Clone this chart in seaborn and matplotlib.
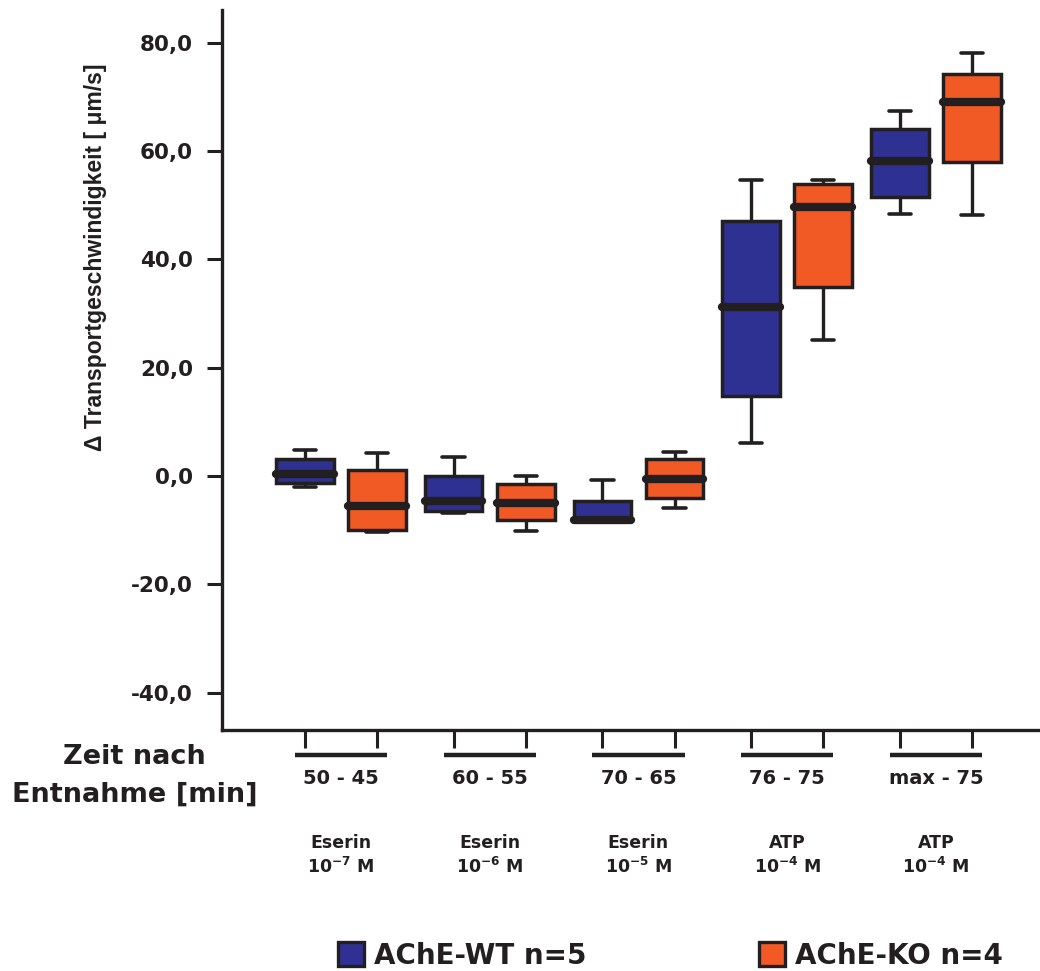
import numpy as np
import pandas as pd
import matplotlib
matplotlib.use("Agg")
import matplotlib.pyplot as plt
import matplotlib.transforms as mtransforms
from matplotlib import font_manager
from matplotlib.font_manager import FontProperties
from matplotlib.patches import Patch
import seaborn as sns

# ---- data ---------------------------------------------------------------
periods = ["50 - 45", "60 - 55", "70 - 65", "76 - 75", "max - 75"]
treatments = ["Eserin", "Eserin", "Eserin", "ATP", "ATP"]
exponents = ["-7", "-6", "-5", "-4", "-4"]
groups = ["AChE-WT n=5", "AChE-KO n=4"]
y_ticks = [-40, -20, 0, 20, 40, 60, 80]

# five-number summaries per period: minimum, Q1, median, Q3, maximum
wt_min = [-2.1, -6.8, -8.1, 6.1, 48.4]
wt_q1 = [-1.3, -6.4, -8.1, 14.8, 51.4]
wt_med = [0.4, -4.7, -8.1, 31.2, 58.1]
wt_q3 = [3.2, 0.0, -4.7, 47.0, 64.0]
wt_max = [4.8, 3.4, -0.7, 54.6, 67.4]

ko_min = [-10.3, -10.1, -6.0, 25.1, 48.1]
ko_q1 = [-10.0, -8.2, -4.1, 34.9, 57.9]
ko_med = [-5.5, -5.0, -0.5, 49.6, 69.0]
ko_q3 = [1.1, -1.5, 3.1, 53.9, 74.1]
ko_max = [4.2, -0.1, 4.5, 54.6, 78.1]

# ---- style --------------------------------------------------------------
BLUE = "#2e3192"
ORANGE = "#f15a24"
INK = "#231f20"

sns.set_style("ticks")
plt.rcParams["font.family"] = ["DejaVu Sans"]
plt.rcParams["font.weight"] = "bold"


def label_font(size):
    """Bold narrow face for the vertical axis title, if one is installed."""
    for f in font_manager.fontManager.ttflist:
        name = f.name.lower()
        if ("narrow" in name or "condensed" in name) and f.weight in (700, "bold") \
                and f.style == "normal" and "liberation" in name:
            return FontProperties(fname=f.fname, size=size)
    return FontProperties(family="Liberation Sans", weight="bold", size=size)


rows = []
for grp, cols in zip(groups, [(wt_min, wt_q1, wt_med, wt_q3, wt_max),
                              (ko_min, ko_q1, ko_med, ko_q3, ko_max)]):
    for i, period in enumerate(periods):
        for col in cols:
            rows.append({"period": period, "group": grp, "value": col[i]})
df = pd.DataFrame(rows)

fig = plt.figure(figsize=(10.4, 9.71), dpi=100)
ax = fig.add_axes([222 / 1040, 1 - 730 / 971, 1 - 222 / 1040, 720 / 971])

BOX_WIDTH = 0.97
GAP = 0.2
sns.boxplot(
    data=df, x="period", y="value", hue="group",
    order=periods, hue_order=groups, palette=[BLUE, ORANGE],
    saturation=1, width=BOX_WIDTH, gap=GAP, whis=(0, 100),
    linecolor=INK, linewidth=2.5, legend=False, ax=ax,
    medianprops=dict(color=INK, linewidth=6, solid_capstyle="round"),
    whiskerprops=dict(color=INK, linewidth=2.4),
    capprops=dict(color=INK, linewidth=2.6, solid_capstyle="round"),
)

# narrower whisker caps
drawn_width = BOX_WIDTH / 2 * (1 - GAP)
cap_width = 0.15
for line in ax.lines:
    xd, yd = line.get_data()
    xd = np.asarray(xd, dtype=float)
    yd = np.asarray(yd, dtype=float)
    if len(xd) == 2 and yd[0] == yd[1]:
        length = abs(xd[1] - xd[0])
        if 0 < length < 0.8 * drawn_width and line.get_linewidth() < 5:
            c = xd.mean()
            line.set_xdata([c - cap_width / 2, c + cap_width / 2])

ax.set_xlim(-0.80, 4.70)
ax.set_ylim(-46.9, 86.0)

# axes frame
sns.despine(ax=ax)
for side in ("left", "bottom"):
    ax.spines[side].set_linewidth(2.4)
    ax.spines[side].set_color(INK)

ax.set_yticks(y_ticks)
ax.set_yticklabels([f"{v:.1f}".replace(".", ",") for v in y_ticks])
ax.tick_params(axis="y", length=11, width=2.2, color=INK, pad=10,
               labelsize=15.5, labelcolor=INK)

# one tick under every box
offset = BOX_WIDTH / 4
box_positions = [i + s * offset for i in range(len(periods)) for s in (-1, 1)]
ax.set_xticks(box_positions)
ax.set_xticklabels([])
ax.tick_params(axis="x", length=13, width=2.2, color=INK, direction="out")

ax.set_xlabel("")
fp = label_font(16.5)
if "narrow" in (fp.get_file() or "").lower():
    fp.set_size(19.0)
ax.set_ylabel("Δ Transportgeschwindigkeit [ μm/s]", fontproperties=fp,
              color=INK)
ax.yaxis.set_label_coords(-0.140, 0.657)

# period labels with underline bars and treatment notes
trans = mtransforms.blended_transform_factory(ax.transData, ax.transAxes)
for i, (period, treat, exp) in enumerate(zip(periods, treatments, exponents)):
    ax.plot([i - 0.31, i + 0.31], [-0.035, -0.035], transform=trans,
            color=INK, lw=3.2, solid_capstyle="butt", clip_on=False)
    ax.text(i, -0.068, period, transform=trans, ha="center", va="center",
            fontsize=14, fontweight="bold", color=INK)
    ax.text(i, -0.157, treat, transform=trans, ha="center", va="center",
            fontsize=12.5, fontweight="bold", color=INK)
    ax.text(i, -0.190, "10$^{\\mathbf{" + exp + "}}$ M", transform=trans,
            ha="center", va="center", fontsize=12.5, fontweight="bold",
            color=INK)

fig.text(134 / 1040, 1 - 757 / 971, "Zeit nach", ha="center", va="center",
         fontsize=19.5, fontweight="bold", color=INK)
fig.text(135 / 1040, 1 - 795 / 971, "Entnahme [min]", ha="center",
         va="center", fontsize=19.5, fontweight="bold", color=INK)

handles = [Patch(facecolor=BLUE, edgecolor=INK, linewidth=2.4, label=groups[0]),
           Patch(facecolor=ORANGE, edgecolor=INK, linewidth=2.4, label=groups[1])]
fig.legend(handles=handles, loc="center left",
           bbox_to_anchor=(338 / 1040, 1 - 956 / 971), ncol=2,
           frameon=False, borderpad=0, borderaxespad=0,
           handlelength=0.95, handleheight=0.95, handletextpad=0.35,
           columnspacing=6.2,
           prop=dict(size=20, weight="bold"), labelcolor=INK)

fig.savefig("out.png", dpi=100)
